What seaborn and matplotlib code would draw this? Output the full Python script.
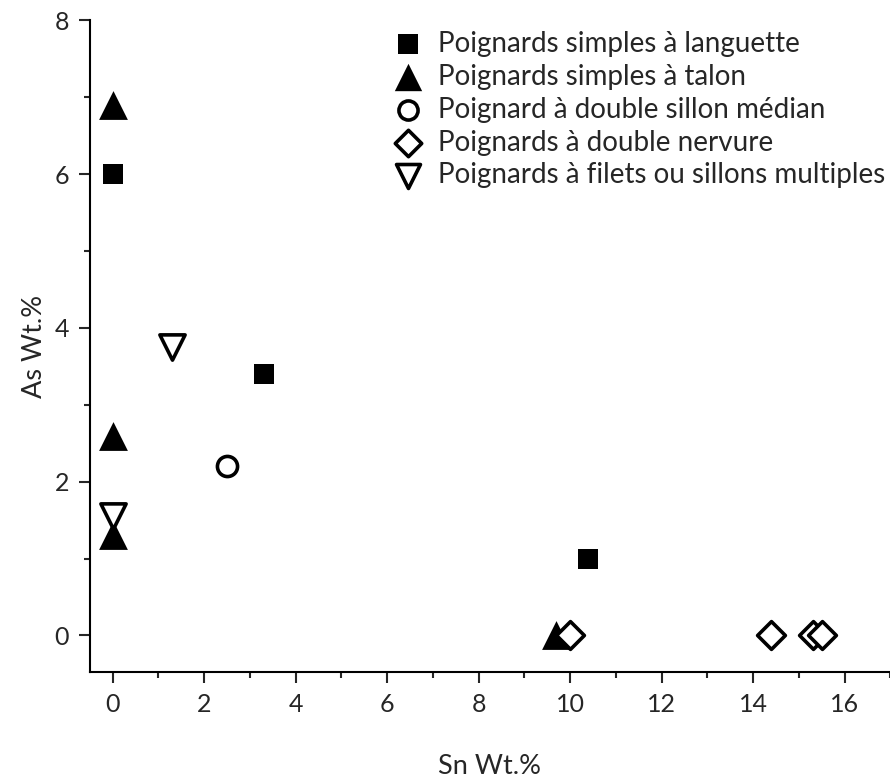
import matplotlib
matplotlib.use("Agg")
import matplotlib.pyplot as plt
import pandas as pd
import seaborn as sns
from matplotlib.ticker import MultipleLocator

# Sn / As contents (wt.%) per dagger type
LANGUETTE_SN = [0.0, 3.3, 10.4]
LANGUETTE_AS = [6.0, 3.4, 1.0]
TALON_SN = [0.0, 0.0, 0.0, 9.7]
TALON_AS = [6.9, 2.6, 1.3, 0.0]
SILLON_SN = [2.5]
SILLON_AS = [2.2]
NERVURE_SN = [10.0, 14.4, 15.3, 15.5]
NERVURE_AS = [0.0, 0.0, 0.0, 0.0]
FILETS_SN = [1.3, 0.0]
FILETS_AS = [3.75, 1.55]

GROUP_NAMES = [
    "Poignards simples à languette",
    "Poignards simples à talon",
    "Poignard à double sillon médian",
    "Poignards à double nervure",
    "Poignards à filets ou sillons multiples",
]
X_TICKS = [0, 2, 4, 6, 8, 10, 12, 14, 16]
Y_TICKS = [0, 2, 4, 6, 8]

frames = []
for name, xs, ys in zip(
    GROUP_NAMES,
    [LANGUETTE_SN, TALON_SN, SILLON_SN, NERVURE_SN, FILETS_SN],
    [LANGUETTE_AS, TALON_AS, SILLON_AS, NERVURE_AS, FILETS_AS],
):
    frames.append(pd.DataFrame({"type": name, "sn": xs, "as_": ys}))
df = pd.concat(frames, ignore_index=True)

# marker, size (pt^2), filled
STYLES = {
    GROUP_NAMES[0]: ("s", 225, True),
    GROUP_NAMES[1]: ("^", 430, True),
    GROUP_NAMES[2]: ("o", 210, False),
    GROUP_NAMES[3]: ("D", 200, False),
    GROUP_NAMES[4]: ("v", 330, False),
}

sns.set_theme(style="ticks")
plt.rcParams["font.family"] = ["Lato", "DejaVu Sans"]

fig = plt.figure(figsize=(8.9, 7.8), dpi=100)
ax = fig.add_axes([0.101, 0.138, 0.925, 0.836])

for name in GROUP_NAMES:
    marker, size, filled = STYLES[name]
    sub = df[df["type"] == name]
    sns.scatterplot(
        data=sub, x="sn", y="as_", ax=ax,
        marker=marker, s=size,
        color="black" if filled else "white",
        edgecolor="black", linewidth=0 if filled else 2.6,
        label=name, zorder=3, clip_on=False,
    )

ax.set_xlim(-0.5, 17.5)
ax.set_ylim(-0.48, 8)
ax.set_xticks(X_TICKS)
ax.set_yticks(Y_TICKS)
ax.xaxis.set_minor_locator(MultipleLocator(1))
ax.yaxis.set_minor_locator(MultipleLocator(1))
ax.tick_params(which="major", length=8, width=1.5, labelsize=18, direction="out", pad=7)
ax.tick_params(which="minor", length=4, width=1.5, direction="out")

for side in ["top", "right"]:
    ax.spines[side].set_visible(False)
for side in ["left", "bottom"]:
    ax.spines[side].set_linewidth(1.5)
    ax.spines[side].set_color("black")

ax.set_xlabel("Sn Wt.%", fontsize=19.5)
ax.set_ylabel("As Wt.%", fontsize=19.5)
ax.xaxis.set_label_coords(0.486, -0.125)
ax.yaxis.set_label_coords(-0.052, 0.5)

leg = ax.legend(
    loc="upper left", bbox_to_anchor=(0.366, 0.984), frameon=False,
    fontsize=20, handlelength=1.2, handletextpad=0.5, labelspacing=0.25,
    borderaxespad=0, borderpad=0, markerscale=0.95,
)

fig.savefig("out.png", dpi=100)
